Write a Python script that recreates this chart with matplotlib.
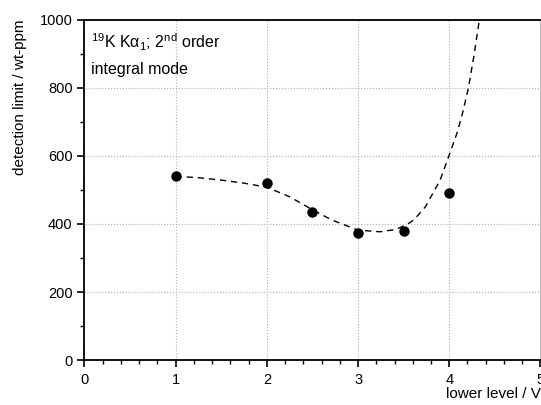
import matplotlib
matplotlib.use("Agg")
import matplotlib.pyplot as plt
from matplotlib.ticker import MultipleLocator

plt.rcParams['font.family'] = ['Liberation Sans', 'DejaVu Sans']
plt.rcParams['mathtext.fontset'] = 'custom'
plt.rcParams['mathtext.rm'] = 'Liberation Sans'
plt.rcParams['mathtext.it'] = 'Liberation Sans:italic'

# measured points
lower_level = [1.0, 2.0, 2.5, 3.0, 3.5, 4.0]
det_limit = [541, 521, 436, 374, 379, 492]

# dashed fit curve
fit_x = [1.0, 1.25, 1.5, 1.75, 2.0, 2.25, 2.5, 2.71, 3.0, 3.24, 3.42, 3.57,
         3.62, 3.74, 3.9, 4.0, 4.085, 4.15, 4.21, 4.27, 4.33]
fit_y = [540, 536, 529, 520, 508, 480, 442, 412, 382, 377, 384, 404,
         414, 451, 529, 603, 667, 730, 800, 893, 1000]

fig = plt.figure(figsize=(5.41, 4.05), dpi=100)
ax = fig.add_axes([0.156, 0.111, 0.843, 0.840])

ax.plot(fit_x, fit_y, color='black', lw=1.0, linestyle=(0, (4.5, 3.5)))
ax.plot(lower_level, det_limit, 'o', color='black', ms=6.5)

ax.set_xlim(0, 5)
ax.set_ylim(0, 1000)
ax.xaxis.set_major_locator(MultipleLocator(1))
ax.xaxis.set_minor_locator(MultipleLocator(0.2))
ax.yaxis.set_major_locator(MultipleLocator(200))
ax.yaxis.set_minor_locator(MultipleLocator(100))
ax.tick_params(which='major', direction='out', length=5, width=1.2, labelsize=10.5)
ax.tick_params(axis='x', which='major', pad=4)
ax.tick_params(which='minor', direction='out', length=3, width=1.0)

ax.grid(True, which='major', color='#b0b0b0', linestyle=':', linewidth=0.8)

for s in ['left', 'bottom', 'top']:
    ax.spines[s].set_linewidth(1.3)
ax.spines['right'].set_linewidth(0.6)
ax.spines['right'].set_color('#b0b0b0')

ax.set_xlabel('lower level / V', fontsize=11, loc='right', labelpad=0)
ax.set_ylabel('detection limit / wt-ppm', fontsize=11, loc='top', labelpad=9)

ax.text(0.015, 0.965, r'$^{19}$K Kα$_1$; 2$^{\rm nd}$ order', transform=ax.transAxes,
        fontsize=11.5, va='top', ha='left')
ax.text(0.015, 0.875, 'integral mode', transform=ax.transAxes,
        fontsize=11.5, va='top', ha='left')

fig.savefig('out.png', dpi=100)
